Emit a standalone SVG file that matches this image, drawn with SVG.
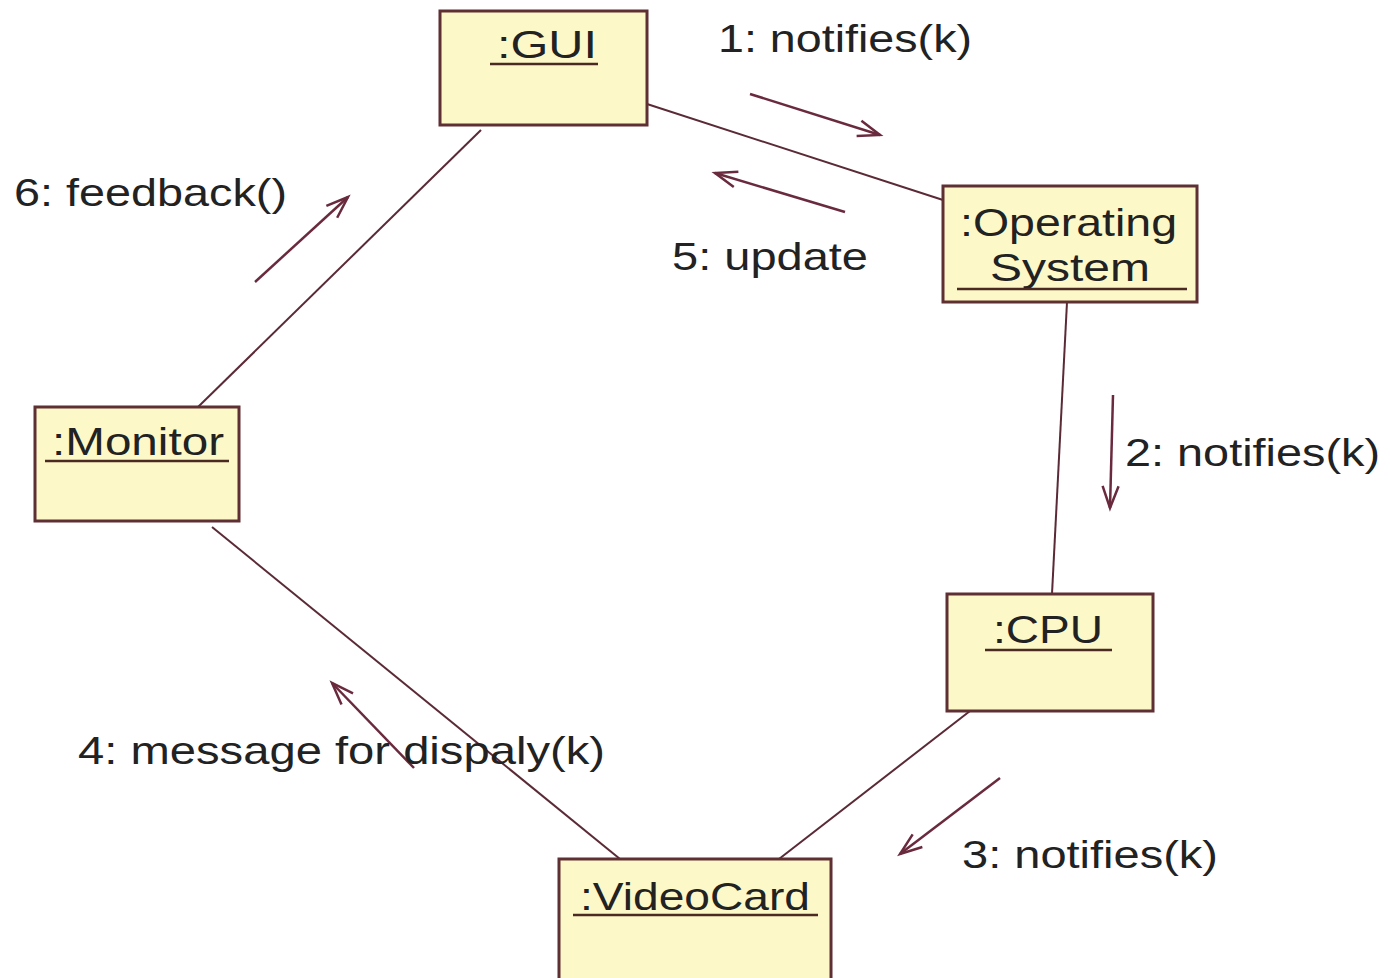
<svg xmlns="http://www.w3.org/2000/svg" width="1390" height="978" viewBox="0 0 1390 978">
  <style>
    .box { fill: #fdf8c8; stroke: #5e2f33; stroke-width: 3; }
    .uline { stroke: #4a2a22; stroke-width: 2.5; }
    .name { font-family: "Liberation Sans", Arial, sans-serif; font-size: 39px; fill: #222222; }
    .lbl { font-family: "Liberation Sans", Arial, sans-serif; font-size: 39px; fill: #222222; }
    .link { stroke: #5a2a36; stroke-width: 2; fill: none; }
    .msg { stroke: #6a2a3e; stroke-width: 2.5; fill: none; marker-end: url(#open); }
  </style>
  <defs>
    <marker id="open" markerUnits="userSpaceOnUse" viewBox="-30 -15 34 30" refX="0" refY="0" markerWidth="34" markerHeight="30" orient="auto">
      <path d="M-22,-8 L0,0 L-22,8" fill="none" stroke="#6a2a3e" stroke-width="2.5"/>
    </marker>
  </defs>
  <rect width="1390" height="978" fill="#ffffff"/>

  <!-- links between objects -->
  <g id="connectors">
    <line class="link" x1="647" y1="104" x2="943" y2="200"/>
    <line class="link" x1="1067" y1="302" x2="1052" y2="594"/>
    <line class="link" x1="970" y1="711" x2="779" y2="859"/>
    <line class="link" x1="620" y1="859" x2="212" y2="527"/>
    <line class="link" x1="198" y1="407" x2="481" y2="130"/>

    <!-- messages -->
    <line class="msg" x1="750" y1="94" x2="880" y2="135"/>
    <line class="msg" x1="1113" y1="395" x2="1110" y2="508"/>
    <line class="msg" x1="1000" y1="778" x2="900" y2="854"/>
    <line class="msg" x1="414" y1="768" x2="332" y2="683"/>
    <line class="msg" x1="845" y1="212" x2="715" y2="173"/>
    <line class="msg" x1="255" y1="282" x2="348" y2="197"/>
  </g>

  <g id="labels">
    <text class="lbl" x="718" y="52" textLength="254" lengthAdjust="spacingAndGlyphs">1: notifies(k)</text>
    <text class="lbl" x="1125" y="466" textLength="255" lengthAdjust="spacingAndGlyphs">2: notifies(k)</text>
    <text class="lbl" x="962" y="868" textLength="256" lengthAdjust="spacingAndGlyphs">3: notifies(k)</text>
    <text class="lbl" x="78" y="764" textLength="527" lengthAdjust="spacingAndGlyphs">4: message for dispaly(k)</text>
    <text class="lbl" x="672" y="270" textLength="196" lengthAdjust="spacingAndGlyphs">5: update</text>
    <text class="lbl" x="14" y="206" textLength="273" lengthAdjust="spacingAndGlyphs">6: feedback()</text>
  </g>

  <g id="gui">
    <rect class="box" x="440" y="11" width="207" height="114"/>
    <text class="name" x="497" y="58" textLength="100" lengthAdjust="spacingAndGlyphs">:GUI</text>
    <line class="uline" x1="490" y1="64" x2="598" y2="64"/>
  </g>

  <g id="operating-system">
    <rect class="box" x="943" y="186" width="254" height="116"/>
    <text class="name" x="960" y="236" textLength="217" lengthAdjust="spacingAndGlyphs">:Operating</text>
    <text class="name" x="990" y="281" textLength="160" lengthAdjust="spacingAndGlyphs">System</text>
    <line class="uline" x1="957" y1="289" x2="1187" y2="289"/>
  </g>

  <g id="cpu">
    <rect class="box" x="947" y="594" width="206" height="117"/>
    <text class="name" x="993" y="643" textLength="110" lengthAdjust="spacingAndGlyphs">:CPU</text>
    <line class="uline" x1="985" y1="650" x2="1112" y2="650"/>
  </g>

  <g id="videocard">
    <rect class="box" x="559" y="859" width="272" height="130"/>
    <text class="name" x="580" y="910" textLength="230" lengthAdjust="spacingAndGlyphs">:VideoCard</text>
    <line class="uline" x1="573" y1="915" x2="818" y2="915"/>
  </g>

  <g id="monitor">
    <rect class="box" x="35" y="407" width="204" height="114"/>
    <text class="name" x="52" y="455" textLength="172" lengthAdjust="spacingAndGlyphs">:Monitor</text>
    <line class="uline" x1="45" y1="461" x2="229" y2="461"/>
  </g>
</svg>
